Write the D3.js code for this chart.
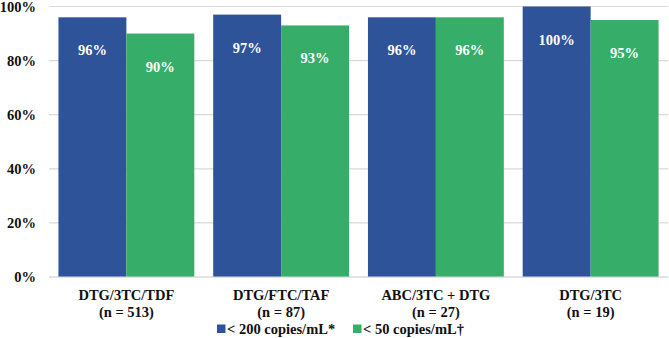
<!DOCTYPE html>
<html>
<head>
<script src="https://cdn.jsdelivr.net/npm/d3@7"></script>
</head>
<body style="margin:0">
<div id="c"></div>
<script>
const regimens = ["DTG/3TC/TDF", "DTG/FTC/TAF", "ABC/3TC + DTG", "DTG/3TC"];
const sampleSizes = ["(n = 513)", "(n = 87)", "(n = 27)", "(n = 19)"];
const seriesNames = ["< 200 copies/mL*", "< 50 copies/mL\u2020"];
const below200 = [96, 97, 96, 100];
const below50 = [90, 93, 96, 95];
const yTicks = [0, 20, 40, 60, 80, 100];

const colors = ["#2E5398", "#36AE6A"];

const W = 669, H = 338;
const margin = {top: 6.5, right: 1, bottom: 61, left: 49};
const width = W - margin.left - margin.right,
      height = H - margin.top - margin.bottom;

const root = d3.select("#c").append("svg").attr("width", W).attr("height", H);
const svg = root.append("g")
    .attr("transform", `translate(${margin.left}, ${margin.top})`);

// same font on every label
function serif(sel) {
  sel.style("font-family", "Liberation Serif")
    .style("font-weight", "bold")
    .style("font-size", "14.5px");
}

const x = d3.scaleBand()
  .domain(regimens)
  .range([0, width])
  .paddingInner(0.122)
  .paddingOuter(0.061);

const xs = d3.scaleBand()
  .domain([0, 1])
  .range([0, x.bandwidth()]);

const y = d3.scaleLinear()
  .domain([0, 100])
  .range([height, 0]);

// gridlines
svg.append("g")
  .selectAll("line")
  .data(yTicks)
  .join("line")
    .attr("x1", 0)
    .attr("x2", width)
    .attr("y1", d => y(d))
    .attr("y2", d => y(d))
    .attr("stroke", "#d9d9d9")
    .attr("stroke-width", 1.2);

// y axis labels
const yAxis = svg.append("g")
  .call(d3.axisLeft(y).tickValues(yTicks).tickFormat(d => d + "%").tickSize(0).tickPadding(13));
yAxis.select(".domain").remove();
yAxis.selectAll("text").call(serif).attr("fill", "#111");

const rows = regimens.map((r, i) => ({r, vals: [below200[i], below50[i]]}));

const groups = svg.selectAll(".grp")
  .data(rows)
  .join("g")
    .attr("class", "grp")
    .attr("transform", d => `translate(${x(d.r)}, 0)`);

groups.selectAll("rect")
  .data(d => d.vals.map((v, k) => ({v, k})))
  .join("rect")
    .attr("x", d => xs(d.k))
    .attr("width", xs.bandwidth())
    .attr("y", d => y(d.v))
    .attr("height", d => height - y(d.v))
    .attr("fill", d => colors[d.k]);

groups.selectAll(".lbl")
  .data(d => d.vals.map((v, k) => ({v, k})))
  .join("text")
    .attr("class", "lbl")
    .attr("x", d => xs(d.k) + xs.bandwidth() / 2)
    .attr("y", d => y(d.v) + 38)
    .attr("text-anchor", "middle")
    .call(serif)
    .attr("fill", "#fff")
    .text(d => d.v + "%");

// x axis line
svg.append("line")
  .attr("x1", 0).attr("x2", width)
  .attr("y1", height).attr("y2", height)
  .attr("stroke", "#d9d9d9")
  .attr("stroke-width", 1.2);

// category labels, two lines
const cat = svg.append("g")
  .selectAll("text")
  .data(regimens)
  .join("text")
    .attr("x", d => x(d) + x.bandwidth() / 2)
    .attr("y", height + 23)
    .attr("text-anchor", "middle")
    .call(serif)
    .attr("fill", "#111");
cat.append("tspan").text(d => d);
cat.append("tspan")
  .attr("x", d => x(d) + x.bandwidth() / 2)
  .attr("dy", 17)
  .text((d, i) => sampleSizes[i]);

// legend
const legend = svg.append("g")
  .attr("transform", `translate(168, ${height + 52})`);
const legendX = [0, 136];
seriesNames.forEach((s, i) => {
  legend.append("rect")
    .attr("x", legendX[i])
    .attr("y", -4.5)
    .attr("width", 8.5)
    .attr("height", 8.5)
    .attr("fill", colors[i]);
  legend.append("text")
    .attr("x", legendX[i] + 10)
    .attr("y", 0)
    .attr("dy", "0.35em")
    .call(serif)
    .attr("fill", "#111")
    .text(s);
});
</script>
</body>
</html>
